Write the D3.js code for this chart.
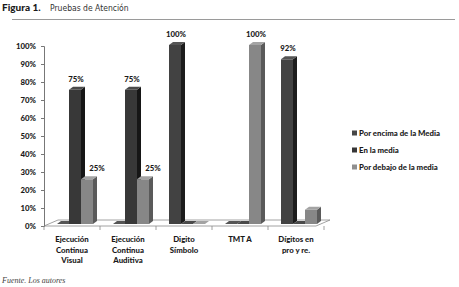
<!DOCTYPE html>
<html>
<head>
<meta charset="utf-8">
<script src="https://cdn.jsdelivr.net/npm/d3@7"></script>
<style>
  body { margin: 0; background: #fff; }
  svg { display: block; }
</style>
</head>
<body>
<div id="chart"></div>
<script>
// data
const categories = [
  ['Ejecución', 'Continua', 'Visual'],
  ['Ejecución', 'Continua', 'Auditiva'],
  ['Digito', 'Símbolo'],
  ['TMT A'],
  ['Dígitos en', 'pro y re.']
];
const seriesNames = ['Por encima de la Media', 'En la media', 'Por debajo de la media'];
const porEncima = [0, 0, 100, 0, 92];
const enLaMedia = [75, 75, 0, 0, 0];
const porDebajo = [25, 25, 0, 100, 8];
const yTicks = [0, 10, 20, 30, 40, 50, 60, 70, 80, 90, 100];

const width = 459, height = 287;
const svg = d3.select('#chart').append('svg')
  .attr('width', width).attr('height', height);

const font = 'Lato, sans-serif';

// header
svg.append('text').attr('x', 2).attr('y', 11)
  .attr('font-family', font).attr('font-size', 10).attr('font-weight', 900)
  .attr('fill', '#1a1a1a').text('Figura 1.');
svg.append('text').attr('x', 50).attr('y', 11)
  .attr('font-family', '"Liberation Sans Narrow", "DejaVu Sans Condensed", sans-serif')
  .attr('font-size', 8.5).attr('fill', '#333').text('Pruebas de Atención');
svg.append('line').attr('x1', 12).attr('x2', 455).attr('y1', 19.5).attr('y2', 19.5)
  .attr('stroke', '#9a9a9a').attr('stroke-width', 1);

// footer
svg.append('text').attr('x', 2).attr('y', 283)
  .attr('font-family', '"Liberation Serif", serif').attr('font-style', 'italic')
  .attr('font-size', 8).attr('fill', '#444').text('Fuente. Los autores');

const series = [porEncima, enLaMedia, porDebajo];
const colors = [
  { front: '#424242', side: '#1c1c1c', top: '#555555', key: '#474747' },
  { front: '#383838', side: '#161616', top: '#4a4a4a', key: '#363636' },
  { front: '#878787', side: '#5a5a5a', top: '#a3a3a3', key: '#8f8f8f' }
];

const x0 = 44, x1 = 324, yBase = 224, yTop = 45;
const dx = 4, dy = 3;

const x = d3.scaleBand().domain(d3.range(categories.length)).range([x0, x1]);
const xs = d3.scaleBand().domain(d3.range(series.length))
  .range([13, 49]).paddingInner(0);
const y = d3.scaleLinear().domain([0, 100]).range([yBase, yTop]);

// floor
const fl = 14, fb = 6;
svg.append('path')
  .attr('d', `M${x0},${yBase + 2} L${x1 - 8},${yBase + 2} L${x1 - 8 + fl},${yBase + 2 - fb} L${x0 + fl},${yBase + 2 - fb} Z`)
  .attr('fill', '#fff').attr('stroke', '#8a8a8a').attr('stroke-width', 0.8);

// y axis
const yAxis = svg.append('g').attr('transform', `translate(${x0},0)`)
  .call(d3.axisLeft(y.copy().range([yBase + 2, yTop + 1])).tickValues(yTicks)
    .tickSize(3).tickFormat(d => d + '%'));
yAxis.select('.domain').attr('stroke', '#777');
yAxis.selectAll('.tick line').attr('stroke', '#777');
yAxis.selectAll('text').attr('font-family', font).attr('font-weight', 900)
  .attr('font-size', 7.8).attr('fill', '#1a1a1a').attr('x', -8);

// x tick marks between categories
svg.selectAll('.xtick').data(d3.range(categories.length + 1)).join('line')
  .attr('class', 'xtick')
  .attr('x1', (d, i) => x0 + i * x.bandwidth())
  .attr('x2', (d, i) => x0 + i * x.bandwidth())
  .attr('y1', yBase + 2).attr('y2', yBase + 6)
  .attr('stroke', '#888').attr('stroke-width', 0.8);

// bars
const bars = [];
categories.forEach((c, ci) => {
  series.forEach((s, si) => {
    bars.push({ ci, si, v: s[ci] });
  });
});

const g = svg.append('g');
bars.forEach(b => {
  const bx = x(b.ci) + xs(b.si);
  const bw = xs.bandwidth();
  const top = y(b.v);
  const col = colors[b.si];
  const bar = g.append('g');
  bar.append('rect').attr('x', bx).attr('y', top).attr('width', bw)
    .attr('height', yBase - top).attr('fill', col.front);
  bar.append('path')
    .attr('d', `M${bx + bw},${top} L${bx + bw + dx},${top - dy} L${bx + bw + dx},${yBase - dy} L${bx + bw},${yBase} Z`)
    .attr('fill', col.side);
  bar.append('path')
    .attr('d', `M${bx},${top} L${bx + dx},${top - dy} L${bx + bw + dx},${top - dy} L${bx + bw},${top} Z`)
    .attr('fill', col.top);
});

// data labels (only readable bars)
bars.filter(b => b.v >= 10).forEach(b => {
  const bx = x(b.ci) + xs(b.si);
  let cx = bx + xs.bandwidth() / 2 + dx / 2 - 1;
  // shift right when the neighbouring bar on the left is taller
  if (b.si > 0 && series[b.si - 1][b.ci] > b.v) cx += 9;
  svg.append('text').attr('x', cx).attr('y', y(b.v) - 8)
    .attr('text-anchor', 'middle')
    .attr('font-family', font).attr('font-weight', 900)
    .attr('font-size', 7.8).attr('fill', '#1a1a1a').text(b.v + '%');
});

// category labels
categories.forEach((lines, ci) => {
  const t = svg.append('text').attr('text-anchor', 'middle')
    .attr('font-family', font).attr('font-weight', 900)
    .attr('font-size', 7.8).attr('fill', '#1a1a1a');
  lines.forEach((l, li) => {
    t.append('tspan').attr('x', x(ci) + x.bandwidth() / 2)
      .attr('y', 242 + li * 10.5).text(l);
  });
});

// legend
const leg = svg.append('g').attr('transform', 'translate(352,133)');
seriesNames.forEach((n, i) => {
  leg.append('rect').attr('x', 0).attr('y', i * 17 - 2.5).attr('width', 5).attr('height', 5)
    .attr('fill', colors[i].key);
  leg.append('text').attr('x', 7).attr('y', i * 17 + 2.8)
    .attr('font-family', font).attr('font-weight', 900)
    .attr('font-size', 7.8).attr('fill', '#1a1a1a').text(n);
});
</script>
</body>
</html>
